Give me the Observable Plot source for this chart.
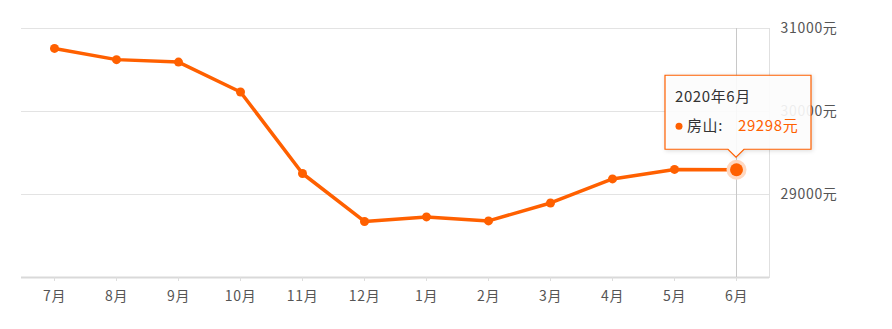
<!DOCTYPE html>
<html>
<head>
<meta charset="utf-8">
<script src="https://cdn.jsdelivr.net/npm/d3@7"></script>
<script src="https://cdn.jsdelivr.net/npm/@observablehq/plot@0.6"></script>
<style>
  html, body { margin: 0; padding: 0; background: #fff; }
  #chart { position: relative; width: 892px; height: 329px; }
  svg { font-family: "Microsoft YaHei", "Noto Sans CJK SC", sans-serif; }
</style>
</head>
<body>
<div id="chart"></div>
<script>
const months = ["7月","8月","9月","10月","11月","12月","1月","2月","3月","4月","5月","6月"];
const prices = [30760, 30625, 30595, 30235, 29253, 28675, 28730, 28682, 28898, 29188, 29302, 29298];
const yTicks = [29000, 30000, 31000];
const yDomain = [28000, 31000];
const seriesName = "房山";
const tipTitle = "2020年6月";

const data = months.map((m, i) => ({month: m, price: prices[i]}));
const last = data[data.length - 1];
const orange = "#ff6000";

const chart = Plot.plot({
  width: 892,
  height: 329,
  marginLeft: 21,
  marginRight: 123,
  marginTop: 28,
  marginBottom: 52,
  style: {fontSize: "14px", color: "#555", background: "#fff", letterSpacing: "0.7px"},
  x: {type: "point", domain: months, padding: 0.5, label: null},
  y: {domain: yDomain, label: null},
  marks: [
    Plot.ruleY(yTicks, {stroke: "#e3e3e3", strokeWidth: 1}),
    Plot.frame({anchor: "right", stroke: "#e0e0e0", strokeWidth: 1}),
    Plot.ruleY([yDomain[0]], {stroke: "#d9d9d9", strokeWidth: 2}),
    Plot.axisX({tickSize: 4, tickPadding: 10, stroke: "#ddd", fill: "#555", fontSize: 14}),
    Plot.axisY(yTicks, {anchor: "right", tickSize: 0, tickPadding: 11, textAnchor: "start",
      tickFormat: d => d + "元", fill: "#555", fontSize: 14}),
    Plot.ruleX([last], {x: "month", stroke: "#c8c8c8", strokeWidth: 1}),
    Plot.line(data, {x: "month", y: "price", stroke: orange, strokeWidth: 3.5, strokeLinejoin: "round"}),
    Plot.dot(data, {x: "month", y: "price", r: 4.5, fill: orange, stroke: "none"}),
    Plot.dot([last], {x: "month", y: "price", r: 10, fill: "#ffd9c2", stroke: "none"}),
    Plot.dot([last], {x: "month", y: "price", r: 6.5, fill: orange, stroke: "none"})
  ]
});
document.getElementById("chart").appendChild(chart);

// Tooltip positioned from the chart's own scales
const sx = chart.scale("x"), sy = chart.scale("y");
const px = sx.apply(last.month), py = sy.apply(last.price);
const svg = d3.select(chart);
const w = 146, h = 74;
const bx = px - 71, by = py - 94;
const g = svg.append("g").attr("text-anchor", "start").style("letter-spacing", "0.6px");
g.append("path")
  .attr("d", `M${bx},${by} H${bx + w} V${by + h} H${px + 8} L${px},${by + h + 8} L${px - 8},${by + h} H${bx} Z`)
  .attr("fill", "rgba(255,255,255,0.9)")
  .attr("stroke", orange)
  .attr("stroke-width", 1.2)
  .style("filter", "drop-shadow(1px 1px 2px rgba(0,0,0,0.15))");
g.append("text").attr("x", bx + 10).attr("y", by + 27)
  .attr("fill", "#333").attr("font-size", 15).text(tipTitle);
g.append("circle").attr("cx", bx + 14).attr("cy", by + 51).attr("r", 3.5).attr("fill", orange);
g.append("text").attr("x", bx + 22).attr("y", by + 56)
  .attr("fill", "#333").attr("font-size", 15).text(seriesName + ":");
g.append("text").attr("x", bx + 73).attr("y", by + 56)
  .attr("fill", orange).attr("font-size", 15).text(last.price + "元");
</script>
</body>
</html>
